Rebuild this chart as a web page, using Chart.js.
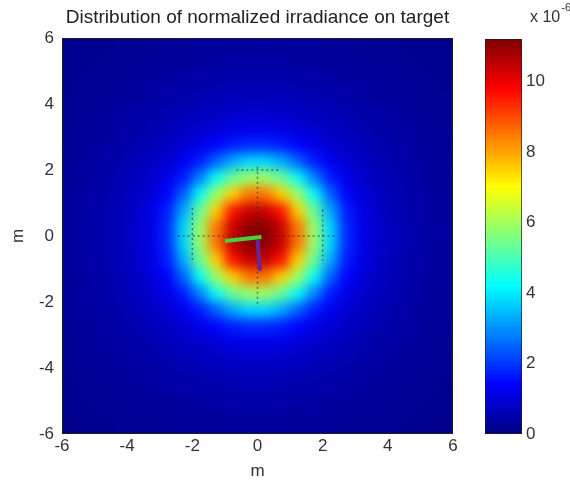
<!DOCTYPE html>
<html>
<head>
<meta charset="utf-8">
<script src="https://cdn.jsdelivr.net/npm/chart.js@4.4.1/dist/chart.umd.min.js"></script>
<style>
  body { margin: 0; background: #fff; }
  #wrap { position: relative; width: 570px; height: 483px; }
  #wrap canvas { position: absolute; top: 0; }
</style>
</head>
<body>
<div id="wrap">
  <canvas id="mapChart" width="570" height="483" style="left:0"></canvas>
  <canvas id="barChart" width="130" height="483" style="left:440px"></canvas>
</div>
<script>
// cell centres (m), 0.5 m cells
const xCenters = [-5.75, -5.25, -4.75, -4.25, -3.75, -3.25, -2.75, -2.25, -1.75, -1.25, -0.75, -0.25,
                  0.25, 0.75, 1.25, 1.75, 2.25, 2.75, 3.25, 3.75, 4.25, 4.75, 5.25, 5.75];
const yCenters = [5.75, 5.25, 4.75, 4.25, 3.75, 3.25, 2.75, 2.25, 1.75, 1.25, 0.75, 0.25,
                  -0.25, -0.75, -1.25, -1.75, -2.25, -2.75, -3.25, -3.75, -4.25, -4.75, -5.25, -5.75];

// normalized irradiance, x 1e-6, one row per yCenters entry
const irradiance = [
  [0.14,0.16,0.17,0.19,0.21,0.23,0.25,0.27,0.29,0.30,0.31,0.32,0.32,0.31,0.30,0.29,0.27,0.25,0.23,0.21,0.19,0.17,0.16,0.14],
  [0.16,0.18,0.20,0.22,0.24,0.27,0.30,0.32,0.35,0.37,0.39,0.40,0.40,0.39,0.37,0.35,0.32,0.30,0.27,0.24,0.22,0.20,0.18,0.16],
  [0.17,0.20,0.22,0.25,0.29,0.32,0.36,0.40,0.43,0.46,0.48,0.50,0.50,0.48,0.46,0.43,0.40,0.36,0.32,0.29,0.25,0.22,0.20,0.17],
  [0.19,0.22,0.25,0.29,0.33,0.38,0.43,0.48,0.52,0.57,0.61,0.63,0.63,0.61,0.57,0.52,0.48,0.43,0.38,0.33,0.29,0.25,0.22,0.19],
  [0.21,0.24,0.29,0.33,0.40,0.45,0.52,0.59,0.66,0.74,0.79,0.83,0.83,0.79,0.74,0.66,0.59,0.52,0.45,0.40,0.33,0.29,0.24,0.21],
  [0.23,0.27,0.32,0.38,0.45,0.52,0.63,0.74,0.85,0.95,1.08,1.14,1.14,1.08,0.95,0.85,0.74,0.63,0.52,0.45,0.38,0.32,0.27,0.23],
  [0.25,0.30,0.36,0.43,0.52,0.63,0.76,0.92,1.14,1.42,1.68,1.82,1.82,1.68,1.42,1.14,0.92,0.76,0.63,0.52,0.43,0.36,0.30,0.25],
  [0.27,0.32,0.40,0.48,0.59,0.74,0.92,1.24,1.68,2.48,3.28,3.75,3.75,3.28,2.48,1.68,1.24,0.92,0.74,0.59,0.48,0.40,0.32,0.27],
  [0.29,0.35,0.43,0.52,0.66,0.85,1.14,1.68,2.85,4.30,5.35,5.90,5.90,5.35,4.30,2.85,1.68,1.14,0.85,0.66,0.52,0.43,0.35,0.29],
  [0.30,0.37,0.46,0.57,0.74,0.95,1.42,2.48,4.30,5.90,7.50,8.50,8.50,7.50,5.90,4.30,2.48,1.42,0.95,0.74,0.57,0.46,0.37,0.30],
  [0.31,0.39,0.48,0.61,0.79,1.08,1.68,3.28,5.35,7.50,9.60,10.4,10.4,9.60,7.50,5.35,3.28,1.68,1.08,0.79,0.61,0.48,0.39,0.31],
  [0.32,0.40,0.50,0.63,0.83,1.14,1.82,3.75,5.90,8.50,10.4,11.1,11.1,10.4,8.50,5.90,3.75,1.82,1.14,0.83,0.63,0.50,0.40,0.32],
  [0.32,0.40,0.50,0.63,0.83,1.14,1.82,3.75,5.90,8.50,10.4,11.1,11.1,10.4,8.50,5.90,3.75,1.82,1.14,0.83,0.63,0.50,0.40,0.32],
  [0.31,0.39,0.48,0.61,0.79,1.08,1.68,3.28,5.35,7.50,9.60,10.4,10.4,9.60,7.50,5.35,3.28,1.68,1.08,0.79,0.61,0.48,0.39,0.31],
  [0.30,0.37,0.46,0.57,0.74,0.95,1.42,2.48,4.30,5.90,7.50,8.50,8.50,7.50,5.90,4.30,2.48,1.42,0.95,0.74,0.57,0.46,0.37,0.30],
  [0.29,0.35,0.43,0.52,0.66,0.85,1.14,1.68,2.85,4.30,5.35,5.90,5.90,5.35,4.30,2.85,1.68,1.14,0.85,0.66,0.52,0.43,0.35,0.29],
  [0.27,0.32,0.40,0.48,0.59,0.74,0.92,1.24,1.68,2.48,3.28,3.75,3.75,3.28,2.48,1.68,1.24,0.92,0.74,0.59,0.48,0.40,0.32,0.27],
  [0.25,0.30,0.36,0.43,0.52,0.63,0.76,0.92,1.14,1.42,1.68,1.82,1.82,1.68,1.42,1.14,0.92,0.76,0.63,0.52,0.43,0.36,0.30,0.25],
  [0.23,0.27,0.32,0.38,0.45,0.52,0.63,0.74,0.85,0.95,1.08,1.14,1.14,1.08,0.95,0.85,0.74,0.63,0.52,0.45,0.38,0.32,0.27,0.23],
  [0.21,0.24,0.29,0.33,0.40,0.45,0.52,0.59,0.66,0.74,0.79,0.83,0.83,0.79,0.74,0.66,0.59,0.52,0.45,0.40,0.33,0.29,0.24,0.21],
  [0.19,0.22,0.25,0.29,0.33,0.38,0.43,0.48,0.52,0.57,0.61,0.63,0.63,0.61,0.57,0.52,0.48,0.43,0.38,0.33,0.29,0.25,0.22,0.19],
  [0.17,0.20,0.22,0.25,0.29,0.32,0.36,0.40,0.43,0.46,0.48,0.50,0.50,0.48,0.46,0.43,0.40,0.36,0.32,0.29,0.25,0.22,0.20,0.17],
  [0.16,0.18,0.20,0.22,0.24,0.27,0.30,0.32,0.35,0.37,0.39,0.40,0.40,0.39,0.37,0.35,0.32,0.30,0.27,0.24,0.22,0.20,0.18,0.16],
  [0.14,0.16,0.17,0.19,0.21,0.23,0.25,0.27,0.29,0.30,0.31,0.32,0.32,0.31,0.30,0.29,0.27,0.25,0.23,0.21,0.19,0.17,0.16,0.14]
];

const axisTicks = [-6, -4, -2, 0, 2, 4, 6];
const cbTicks = [0, 2, 4, 6, 8, 10];
const cbMax = 11.2;

// overlay lines (m)
const crossH = [{x: -2.45, y: 0}, {x: 2.45, y: 0}];
const crossV = [{x: 0, y: 2.1}, {x: 0, y: -2.15}];
const markL = [{x: -2.0, y: 0.85}, {x: -2.0, y: -0.8}];
const markR = [{x: 2.0, y: 0.8}, {x: 2.0, y: -0.75}];
const markT = [{x: -0.65, y: 2.0}, {x: 0.65, y: 2.0}];
const greenArm = [{x: -1.0, y: -0.15}, {x: 0.12, y: -0.03}];
const purpleArm = [{x: 0.0, y: -0.12}, {x: 0.08, y: -1.05}];

function jet(t) {
  const c = v => Math.round(255 * Math.min(1, Math.max(0, v)));
  return `rgb(${c(1.5 - Math.abs(4 * t - 3))},${c(1.5 - Math.abs(4 * t - 2))},${c(1.5 - Math.abs(4 * t - 1))})`;
}

const cells = [];
yCenters.forEach((y, j) => {
  xCenters.forEach((x, i) => cells.push({x: x, y: y, v: irradiance[j][i]}));
});
const cellSize = xCenters[1] - xCenters[0];

const font = 'Liberation Sans, Arial, sans-serif';
const tickFont = {family: font, size: 17};

// smooth the cells like matlab "shading interp"
const smoothing = {
  id: 'smoothing',
  afterDatasetDraw(chart, args) {
    if (chart.data.datasets[args.index].label !== 'irradiance') return;
    const {ctx, canvas, chartArea: a} = chart;
    const w = Math.round(a.right - a.left), h = Math.round(a.bottom - a.top);
    const copy = document.createElement('canvas');
    copy.width = w; copy.height = h;
    copy.getContext('2d').drawImage(canvas, a.left, a.top, w, h, 0, 0, w, h);
    ctx.save();
    ctx.beginPath();
    ctx.rect(a.left, a.top, w, h);
    ctx.clip();
    ctx.filter = 'blur(6px)';
    ctx.drawImage(copy, a.left, a.top);
    ctx.restore();
  }
};

const frame = {
  id: 'frame',
  afterDatasetsDraw(chart) {
    const {ctx, chartArea: a} = chart;
    ctx.save();
    ctx.strokeStyle = '#1e1e1e';
    ctx.lineWidth = 1;
    ctx.strokeRect(a.left + 0.5, a.top + 0.5, a.right - a.left - 1, a.bottom - a.top - 1);
    ctx.restore();
  }
};

function dotted(data) {
  return {
    data: data, showLine: true, pointRadius: 0, order: 1,
    borderColor: 'rgba(40,40,40,0.55)', borderWidth: 1.5, borderDash: [2, 3]
  };
}

new Chart(document.getElementById('mapChart'), {
  type: 'scatter',
  data: {
    datasets: [
      {
        label: 'irradiance',
        data: cells,
        order: 10,
        pointStyle: 'rect',
        pointBorderWidth: 0,
        pointRadius(c) {
          const {x, y} = c.chart.scales;
          const wx = Math.abs(x.getPixelForValue(cellSize) - x.getPixelForValue(0));
          const wy = Math.abs(y.getPixelForValue(cellSize) - y.getPixelForValue(0));
          return (Math.max(wx, wy) + 1) / Math.SQRT2;
        },
        pointBackgroundColor: c => jet(c.raw.v / cbMax)
      },
      dotted(crossH), dotted(crossV), dotted(markL), dotted(markR), dotted(markT),
      {data: greenArm, showLine: true, pointRadius: 0, order: 0, borderColor: '#46d13c', borderWidth: 4},
      {data: purpleArm, showLine: true, pointRadius: 0, order: 0, borderColor: '#62289a', borderWidth: 4}
    ]
  },
  options: {
    responsive: false,
    animation: false,
    events: [],
    layout: {padding: {left: 0, right: 117, top: 0, bottom: 0}},
    plugins: {
      legend: {display: false},
      tooltip: {enabled: false},
      title: {
        display: true,
        fullSize: false,
        text: 'Distribution of normalized irradiance on target',
        color: '#222',
        font: {family: font, size: 19, weight: 'normal'},
        padding: {top: 6, bottom: 9.2}
      }
    },
    scales: {
      x: {
        type: 'linear', min: -6, max: 6,
        grid: {display: false, drawTicks: false},
        border: {display: false},
        afterBuildTicks: s => { s.ticks = axisTicks.map(v => ({value: v})); },
        afterFit: s => { s.height = 49; },
        ticks: {color: '#333', font: tickFont, padding: 2, maxRotation: 0},
        title: {display: true, text: 'm', color: '#333', font: tickFont, padding: {top: 0, bottom: 1}}
      },
      y: {
        type: 'linear', min: -6, max: 6,
        grid: {display: false, drawTicks: false},
        border: {display: false},
        afterBuildTicks: s => { s.ticks = axisTicks.map(v => ({value: v})); },
        afterFit: s => { s.width = 62; },
        ticks: {color: '#333', font: tickFont, padding: 8},
        title: {display: true, text: 'm', color: '#333', font: tickFont, padding: {top: 8, bottom: 0}}
      }
    }
  },
  plugins: [smoothing, frame]
});

// colour bar
const exponent = {
  id: 'exponent',
  afterDraw(chart) {
    const {ctx, chartArea: a} = chart;
    ctx.save();
    ctx.fillStyle = '#333';
    ctx.textBaseline = 'alphabetic';
    ctx.font = `16px ${font}`;
    ctx.fillText('x 10', a.right + 8, 22);
    const w = ctx.measureText('x 10').width;
    ctx.font = `11px ${font}`;
    ctx.fillText('-6', a.right + 9 + w, 11);
    ctx.restore();
  }
};

new Chart(document.getElementById('barChart'), {
  type: 'bar',
  data: {
    labels: [''],
    datasets: [{
      data: [[0, cbMax]],
      categoryPercentage: 1,
      barPercentage: 1,
      borderColor: '#1e1e1e',
      borderWidth: 1,
      borderSkipped: false,
      backgroundColor(c) {
        const chart = c.chart;
        if (!chart.chartArea) return jet(0);
        const s = chart.scales.y;
        const g = chart.ctx.createLinearGradient(0, s.getPixelForValue(0), 0, s.getPixelForValue(cbMax));
        for (let i = 0; i <= 32; i++) g.addColorStop(i / 32, jet(i / 32));
        return g;
      }
    }]
  },
  options: {
    responsive: false,
    animation: false,
    events: [],
    layout: {padding: {left: 45, right: 0, top: 39, bottom: 49}},
    plugins: {legend: {display: false}, tooltip: {enabled: false}},
    scales: {
      x: {display: false},
      y: {
        position: 'right', min: 0, max: cbMax,
        grid: {display: false, drawTicks: false},
        border: {display: false},
        afterBuildTicks: s => { s.ticks = cbTicks.map(v => ({value: v})); },
        afterFit: s => { s.width = 48; },
        ticks: {color: '#333', font: tickFont, padding: 4}
      }
    }
  },
  plugins: [exponent]
});
</script>
</body>
</html>
